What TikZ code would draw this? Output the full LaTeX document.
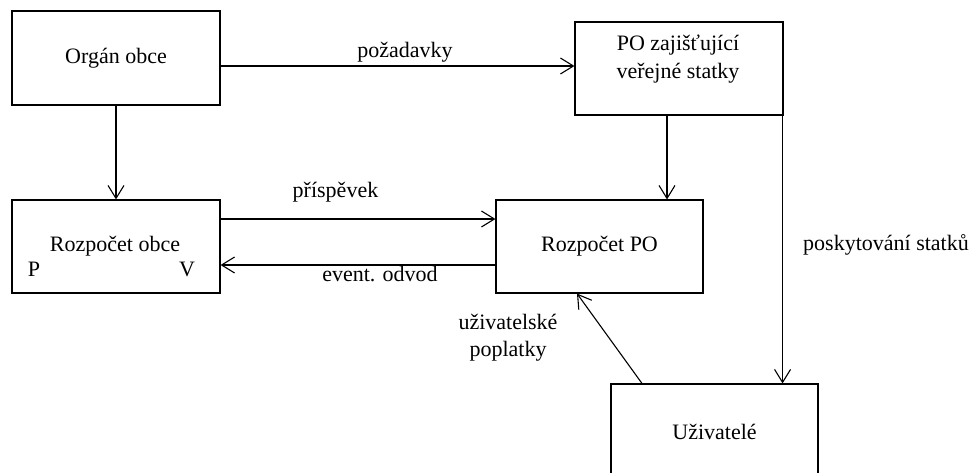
\documentclass[tikz,border=0pt]{standalone}
\usepackage{fontspec}
\setmainfont{Liberation Serif}
\usetikzlibrary{arrows.meta}
\begin{document}
\begin{tikzpicture}[x=1pt,y=-1pt,
  box/.style={draw, line width=1.1pt, rectangle, inner sep=0pt, font=\fontsize{22}{27}\selectfont},
  lbl/.style={inner sep=0pt, font=\fontsize{22}{27}\selectfont},
  arr/.style={line width=1.1pt, -{Straight Barb[length=13pt,width=16pt,line width=1.1pt]}}]
\clip (0,0) rectangle (976,472);
\fill[white] (0,0) rectangle (976,472);
% boxes
\node[box, minimum width=208pt, minimum height=94pt] (organ) at (116,58) {Orgán obce};
\node[box, minimum width=208pt, minimum height=93pt] (rozobce) at (116,246.5) {};
\node[box, minimum width=208pt, minimum height=93pt] (po) at (679,68.5) {};
\node[box, minimum width=207pt, minimum height=93pt] (rozpo) at (599.5,246.5) {Rozpočet PO};
\node[box, minimum width=207pt, minimum height=96pt] (uziv) at (714.5,432) {Uživatelé};
% texts inside boxes
\node[lbl] (tobce) at (115,246) {Rozpočet obce};
\node[lbl] (tP) at (34,269.5) {P};
\node[lbl] (tV) at (187,269.5) {V};
\node[lbl, align=center] (tpo) at (678,59.5) {PO zajišťující\\[1pt]veřejné statky};
% connector labels
\node[lbl] (lpoz) at (405,52) {požadavky};
\node[lbl] (lpri) at (335.5,192) {příspěvek};
\node[lbl] (lodv) at (380,274.5) {event. odvod};
\node[lbl] (lpos) at (886,245) {poskytování statků};
\node[lbl, align=center] (lupo) at (508,338) {uživatelské\\poplatky};
% connectors
\coordinate (r1) at ([yshift=-8pt]organ.east);
\draw[arr] (r1) -- (r1 -| po.west);
\draw[arr] (organ.south) -- (rozobce.north);
\coordinate (r2) at ([xshift=-12pt]po.south);
\draw[arr] (r2) -- (r2 |- rozpo.north);
\coordinate (r3) at ([xshift=-1pt]po.south east);
\draw[arr] (r3) -- (r3 |- uziv.north);
\coordinate (r4) at ([yshift=27.5pt]rozobce.east);
\draw[arr] (r4) -- (r4 -| rozpo.west);
\coordinate (r5) at ([yshift=-18.5pt]rozpo.west);
\draw[arr] (r5) -- (r5 -| rozobce.east);
\draw[arr] ([xshift=-72.5pt]uziv.north) -- ([xshift=-22.5pt]rozpo.south);
\end{tikzpicture}
\end{document}
